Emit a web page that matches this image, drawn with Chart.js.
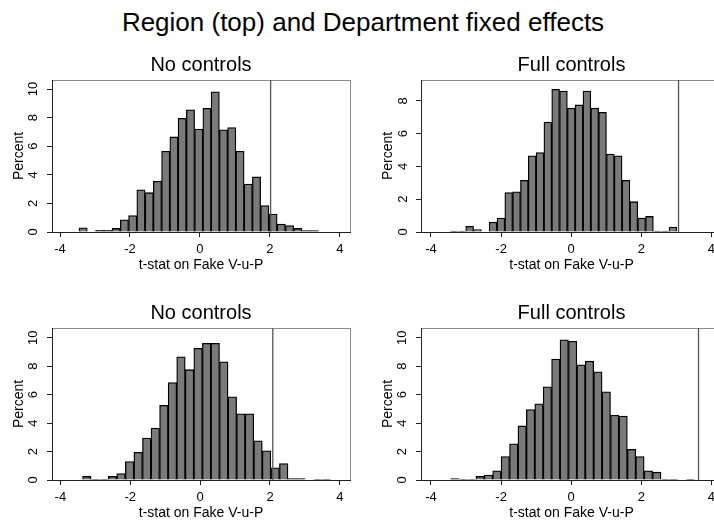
<!DOCTYPE html>
<html>
<head>
<meta charset="utf-8">
<script src="https://cdn.jsdelivr.net/npm/chart.js@4.4.1/dist/chart.umd.min.js"></script>
<style>
  html, body { margin: 0; padding: 0; background: #fff; }
  body { width: 714px; height: 521px; overflow: hidden; position: relative; font-family: 'Liberation Sans', Arial, sans-serif; }
  #titulo { position: absolute; left: 0; top: 7px; width: 726px; text-align: center; font-size: 26px; line-height: 30px; color: #000; }
  canvas { position: absolute; }
</style>
</head>
<body>
<div id="titulo">Region (top) and Department fixed effects</div>
<canvas id="g1" width="370" height="227" style="left:0px;top:50px"></canvas>
<canvas id="g2" width="373" height="227" style="left:369px;top:50px"></canvas>
<canvas id="g3" width="370" height="227" style="left:0px;top:298px"></canvas>
<canvas id="g4" width="373" height="227" style="left:369px;top:298px"></canvas>
<script>
// textos
const titulos = ['No controls', 'Full controls', 'No controls', 'Full controls'];
const xTitulo = 't-stat on Fake V-u-P';
const yTitulo = 'Percent';

// arriba izq - centros de barras y porcentajes
const bins1 = [-3.339, -3.103, -2.867, -2.631, -2.395, -2.159, -1.923, -1.687, -1.451, -1.215,
  -0.979, -0.743, -0.507, -0.271, -0.035, 0.201, 0.437, 0.673, 0.909, 1.145,
  1.381, 1.617, 1.853, 2.089, 2.325, 2.561, 2.797, 3.033, 3.269];
const pct1 = [0.3, 0, 0.12, 0.12, 0.25, 0.85, 1.15, 2.95, 2.75, 3.55,
  5.65, 6.65, 7.95, 8.55, 7.2, 8.65, 9.8, 7.15, 7.3, 5.65,
  3.35, 3.85, 1.85, 1.25, 0.55, 0.45, 0.25, 0.1, 0.1];
const corte1 = 2.02;

// arriba der
const bins2 = [-3.344, -3.121, -2.898, -2.675, -2.452, -2.229, -2.006, -1.783, -1.560, -1.337,
  -1.114, -0.891, -0.668, -0.445, -0.222, 0.001, 0.224, 0.447, 0.670, 0.893,
  1.116, 1.339, 1.562, 1.785, 2.008, 2.231, 2.454, 2.677, 2.900];
const pct2 = [0.05, 0.05, 0.35, 0.15, 0, 0.6, 0.85, 2.4, 2.45, 3.15,
  4.65, 4.85, 6.7, 8.7, 8.6, 7.55, 7.75, 8.6, 7.55, 7.3,
  4.75, 4.65, 3.15, 1.85, 0.85, 0.95, 0.05, 0.05, 0.3];
const corte2 = 3.06;

// abajo izq
const bins3 = [-3.243, -2.998, -2.753, -2.508, -2.263, -2.018, -1.773, -1.528, -1.283, -1.038,
  -0.793, -0.548, -0.303, -0.058, 0.187, 0.432, 0.677, 0.922, 1.167, 1.412,
  1.657, 1.902, 2.147, 2.392, 2.637, 2.882, 3.127, 3.372, 3.617];
const pct3 = [0.25, 0.05, 0.05, 0.25, 0.45, 1.3, 1.95, 2.95, 3.65, 5.25,
  6.85, 8.65, 7.75, 9.25, 9.6, 9.6, 8.3, 5.85, 4.65, 4.65,
  2.75, 2.05, 0.85, 1.15, 0.1, 0.1, 0, 0.03, 0.03];
const corte3 = 2.08;

// abajo der
const bins4 = [-3.32, -3.08, -2.84, -2.60, -2.36, -2.12, -1.88, -1.64, -1.40, -1.16,
  -0.92, -0.68, -0.44, -0.20, 0.04, 0.28, 0.52, 0.76, 1.00, 1.24,
  1.48, 1.72, 1.96, 2.20, 2.44, 2.68, 2.92, 3.16, 3.40];
const pct4 = [0.1, 0.03, 0.03, 0.25, 0.35, 0.65, 1.65, 2.55, 3.8, 4.95,
  5.35, 6.55, 8.5, 9.85, 9.75, 8.1, 8.35, 7.6, 6.2, 4.55,
  4.5, 2.15, 1.65, 0.65, 0.55, 0.03, 0.03, 0, 0.03];
const corte4 = 3.63;

Chart.defaults.font.family = "'Liberation Sans', Arial, sans-serif";
Chart.defaults.color = '#000';

// marco gris alrededor del area del grafico
const marco = {
    id: 'marco',
    beforeDraw(chart) {
        const a = chart.chartArea;
        const ctx = chart.ctx;
        ctx.save();
        ctx.strokeStyle = '#8c8c8c';
        ctx.lineWidth = 1;
        ctx.strokeRect(Math.round(a.left) + 0.5, Math.round(a.top) + 0.5,
            Math.round(a.right - a.left), Math.round(a.bottom - a.top));
        ctx.restore();
    }
};

function crearPanel(id, titulo, bins, pct, corte, cfg) {
    const ctx = document.getElementById(id).getContext('2d');

    const barras = bins.map((b, i) => ({ x: b, y: pct[i] }));

    return new Chart(ctx, {
        type: 'bar',
        data: {
            datasets: [
                {
                    type: 'bar',
                    data: barras,
                    backgroundColor: '#7a7a7a',
                    borderColor: '#000',
                    borderWidth: 1.3,
                    barPercentage: 1,
                    categoryPercentage: 1,
                    order: 1,
                },
                {
                    type: 'line', // linea vertical
                    data: [{ x: corte, y: 0 }, { x: corte, y: cfg.yMax }],
                    borderColor: '#555',
                    borderWidth: 1.3,
                    pointRadius: 0,
                    order: 0,
                }
            ]
        },
        options: {
            responsive: false,
            animation: false,
            layout: { padding: { left: 0, right: 20, top: 0, bottom: 0 } },
            scales: {
                x: {
                    type: 'linear',
                    min: cfg.xMin,
                    max: cfg.xMax,
                    offset: false,
                    grid: { offset: false, drawOnChartArea: false, tickLength: 5, color: '#222' },
                    border: { color: '#222' },
                    ticks: { stepSize: 2, includeBounds: false, maxRotation: 0, padding: 5, font: { size: 13 } },
                    title: { display: true, text: xTitulo, font: { size: 14 }, padding: { top: 0, bottom: 3 } },
                    afterFit: (s) => { s.height = 45; s.paddingLeft = 0; s.paddingRight = 0; },
                },
                y: {
                    min: 0,
                    max: cfg.yMax,
                    grid: { drawOnChartArea: false, tickLength: 5, color: '#222' },
                    border: { color: '#222' },
                    ticks: {
                        stepSize: 2, includeBounds: false, minRotation: 90, maxRotation: 90,
                        crossAlign: 'center', padding: cfg.yPad, font: { size: 13 },
                    },
                    title: { display: true, text: yTitulo, font: { size: 14 }, padding: { top: 11, bottom: 0 } },
                    afterFit: (s) => { s.width = 52; s.paddingTop = 0; s.paddingBottom = 0; },
                }
            },
            plugins: {
                legend: { display: false },
                tooltip: { enabled: false },
                title: {
                    display: true,
                    text: titulo,
                    fullSize: false,
                    font: { size: 20, weight: 'normal' },
                    color: '#000',
                    padding: { top: 3.5, bottom: 2.5 },
                }
            }
        },
        plugins: [marco]
    });
}

crearPanel('g1', titulos[0], bins1, pct1, corte1, { xMin: -4.23, xMax: 4.29, yMax: 10.63, yPad: 6 });
crearPanel('g2', titulos[1], bins2, pct2, corte2, { xMin: -4.285, xMax: 4.3, yMax: 9.27, yPad: 9 });
crearPanel('g3', titulos[2], bins3, pct3, corte3, { xMin: -4.24, xMax: 4.29, yMax: 10.68, yPad: 6 });
crearPanel('g4', titulos[3], bins4, pct4, corte4, { xMin: -4.285, xMax: 4.3, yMax: 10.68, yPad: 6 });
</script>
</body>
</html>
